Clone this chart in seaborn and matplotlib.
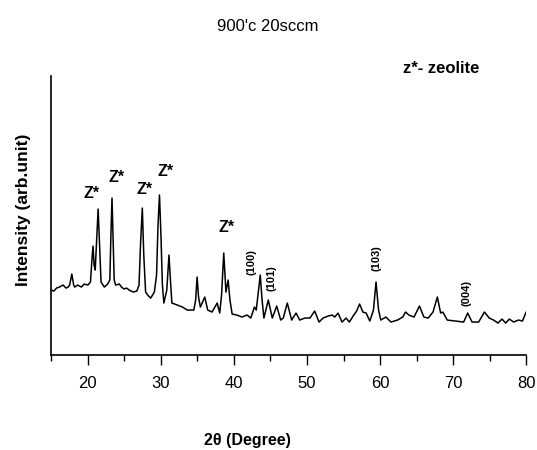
"""
XRD pattern: 900'c 20sccm sample with zeolite peaks
"""
import matplotlib
matplotlib.use('Agg')
import matplotlib.pyplot as plt
from matplotlib.ticker import MultipleLocator
import seaborn as sns
import pandas as pd

# 2theta (deg) and intensity (arb. unit)
two_theta = [
    15.0, 15.35, 15.7, 16.1, 16.6, 17.0, 17.3, 17.5, 17.8, 18.05, 18.2, 18.6,
    19.1, 19.5, 20.0, 20.35, 20.55, 20.7, 20.85, 21.0, 21.2, 21.4, 21.6, 21.8,
    22.25, 22.7, 23.0, 23.15, 23.3, 23.45, 23.6, 23.8, 24.3, 24.6, 24.95, 25.3,
    25.65, 26.2, 26.7, 27.0, 27.2, 27.45, 27.65, 27.9, 28.3, 28.6, 29.1, 29.4,
    29.6, 29.8, 30.0, 30.2, 30.4, 30.8, 31.1, 31.3, 31.5, 32.25, 32.95, 33.6,
    34.5, 34.75, 34.95, 35.15, 35.4, 36.0, 36.4, 37.0, 37.7, 38.05, 38.3, 38.6,
    38.9, 39.2, 39.45, 39.75, 40.4, 41.1, 41.8, 42.3, 42.8, 43.05, 43.6, 43.85,
    44.1, 44.7, 45.25, 45.85, 46.4, 46.75, 47.3, 47.9, 48.5, 49.0, 49.7, 50.4,
    51.05, 51.65, 52.2, 52.9, 53.45, 53.8, 54.25, 54.8, 55.35, 55.8, 56.4, 56.8,
    57.2, 57.65, 58.1, 58.6, 59.1, 59.45, 59.8, 60.1, 60.8, 61.5, 62.4, 63.1,
    63.5, 63.95, 64.65, 65.4, 66.0, 66.6, 67.25, 67.85, 68.3, 68.6, 69.2, 70.3,
    71.45, 72.0, 72.6, 73.5, 74.3, 74.95, 75.55, 76.15, 76.7, 77.2, 77.7, 78.3,
    78.95, 79.5, 80.0,
]
intensity = [
    65, 64, 67, 68, 70, 67, 68, 70, 81, 70, 68, 70,
    68, 71, 70, 73, 95, 109, 90, 85, 115, 146, 110, 73,
    68, 71, 75, 120, 157, 115, 75, 70, 71, 68, 66, 67,
    65, 63, 64, 70, 110, 147, 100, 63, 59, 57, 63, 80,
    130, 160, 120, 70, 52, 65, 100, 75, 52, 50, 48, 45,
    45, 55, 78, 58, 48, 58, 45, 43, 52, 42, 60, 102,
    63, 75, 55, 41, 40, 38, 40, 37, 48, 45, 80, 55,
    37, 55, 37, 49, 35, 37, 52, 35, 42, 35, 37, 37,
    44, 33, 37, 39, 40, 38, 42, 33, 37, 33, 40, 44,
    51, 43, 42, 34, 45, 73, 45, 35, 38, 33, 35, 38,
    43, 40, 38, 49, 38, 37, 43, 58, 42, 43, 35, 34,
    33, 42, 33, 33, 43, 37, 35, 32, 36, 32, 36, 33,
    35, 34, 43,
]

zeolite_labels = ['Z*', 'Z*', 'Z*', 'Z*', 'Z*']
hkl_labels = ['(100)', '(101)', '(103)', '(004)']
x_ticks = [20, 30, 40, 50, 60, 70, 80]

df = pd.DataFrame({'two_theta': two_theta, 'intensity': intensity})

sns.set_theme(style='ticks')
fonts = ['Liberation Sans', 'DejaVu Sans']
plt.rcParams['font.family'] = fonts
plt.rcParams['text.color'] = 'black'
plt.rcParams['xtick.color'] = 'black'
plt.rcParams['axes.edgecolor'] = 'black'

fig = plt.figure(figsize=(5.37, 4.5), dpi=100)
ax = fig.add_axes([0.0957, 0.211, 0.884, 0.62])

sns.lineplot(data=df, x='two_theta', y='intensity', color='black',
             linewidth=1.1, ax=ax, estimator=None)

ax.set_xlim(15, 80)
ax.set_ylim(0, 279)
ax.set_xticks(x_ticks)
ax.xaxis.set_minor_locator(MultipleLocator(5))
ax.set_yticks([])
ax.tick_params(axis='x', which='major', direction='out', length=7,
               width=1, color='black', pad=8, labelsize=12,
               labelcolor='black')
ax.tick_params(axis='x', which='minor', direction='out', length=4,
               width=1, color='black')
ax.set_xlabel('')
ax.set_ylabel('')
sns.despine(ax=ax)
for side in ['left', 'bottom']:
    ax.spines[side].set_linewidth(1.2)

# peak labels
z_pos = [(20.5, 162), (23.9, 178), (27.7, 166), (30.7, 184), (39.05, 128)]
for lab, (xp, yp) in zip(zeolite_labels, z_pos):
    ax.text(xp, yp, lab, ha='center', va='center', fontsize=11.5,
            fontweight='bold')
hkl_pos = [(42.45, 93), (45.15, 77), (59.55, 97), (71.9, 62)]
for lab, (xp, yp) in zip(hkl_labels, hkl_pos):
    ax.text(xp, yp, lab, ha='center', va='center', rotation=90,
            fontsize=8, fontweight='bold')

fig.text(0.499, 0.942, "900'c 20sccm", ha='center', va='center',
         fontsize=12)
fig.text(0.822, 0.847, 'z*- zeolite', ha='center', va='center',
         fontsize=12, fontweight='bold')
fig.text(0.46, 0.022, '2θ (Degree)', ha='center', va='center',
         fontsize=11.5, fontweight='bold')
fig.text(0.043, 0.533, 'Intensity (arb.unit)', ha='center', va='center',
         rotation=90, fontsize=12.5, fontweight='bold')

plt.savefig('out.png', dpi=100)
